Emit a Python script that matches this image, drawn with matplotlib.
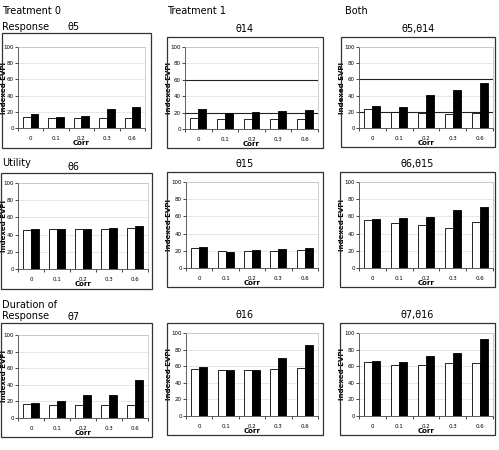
import matplotlib.pyplot as plt
from matplotlib.patches import Rectangle
import numpy as np

W, H = 499, 450

corr = ["0", "0.1", "0.2", "0.3", "0.6"]

# white bars (first series) and black bars (second series), per panel
t0_response_w = [14, 12, 12, 12, 12]
t0_response_b = [17, 14, 15, 24, 26]
t1_response_w = [14, 12, 12, 12, 12]
t1_response_b = [24, 19, 21, 22, 23]
both_response_w = [24, 20, 19, 17, 19]
both_response_b = [27, 26, 41, 47, 55]

t0_utility_w = [45, 47, 47, 47, 48]
t0_utility_b = [46, 46, 47, 48, 50]
t1_utility_w = [23, 20, 20, 20, 21]
t1_utility_b = [24, 19, 21, 22, 23]
both_utility_w = [56, 52, 50, 47, 53]
both_utility_b = [57, 58, 59, 68, 71]

t0_duration_w = [17, 16, 16, 16, 16]
t0_duration_b = [18, 21, 28, 28, 46]
t1_duration_w = [57, 56, 56, 57, 58]
t1_duration_b = [59, 56, 55, 70, 85]
both_duration_w = [65, 62, 62, 64, 64]
both_duration_b = [66, 65, 72, 76, 93]

titles = [["θ5", "θ14", "θ5,θ14"],
          ["θ6", "θ15", "θ6,θ15"],
          ["θ7", "θ16", "θ7,θ16"]]
data = [[(t0_response_w, t0_response_b), (t1_response_w, t1_response_b), (both_response_w, both_response_b)],
        [(t0_utility_w, t0_utility_b), (t1_utility_w, t1_utility_b), (both_utility_w, both_utility_b)],
        [(t0_duration_w, t0_duration_b), (t1_duration_w, t1_duration_b), (both_duration_w, both_duration_b)]]

# pixel boxes (x0, y0, x1, y1), top-left origin
panel_boxes = [[(2, 33, 151, 148), (167, 37, 323, 148), (341, 37, 495, 147)],
               [(1, 173, 152, 289), (167, 172, 323, 287), (340, 172, 495, 287)],
               [(1, 323, 152, 437), (167, 323, 323, 435), (340, 323, 495, 435)]]
axes_boxes = [[(18, 47, 145, 128), (185, 47, 318, 129), (359, 47, 493, 128)],
              [(18, 183, 148, 269), (186, 182, 318, 268), (359, 182, 493, 268)],
              [(18, 335, 148, 418), (186, 333, 318, 416), (359, 333, 493, 416)]]
ylabel_x = [7, 172, 345]
dark_grid = {(0, 1), (0, 2)}


def frac(b):
    x0, y0, x1, y1 = b
    return [x0 / W, 1 - y1 / H, (x1 - x0) / W, (y1 - y0) / H]


fig = plt.figure(figsize=(W / 100, H / 100), dpi=100)
fig.patch.set_facecolor("white")

x = np.arange(len(corr))
bw = 0.3
for r in range(3):
    for c in range(3):
        px0, py0, px1, py1 = panel_boxes[r][c]
        fig.patches.append(Rectangle((px0 / W, 1 - py1 / H), (px1 - px0) / W, (py1 - py0) / H,
                                     transform=fig.transFigure, fill=False,
                                     edgecolor="#333333", linewidth=0.9))
        ax = fig.add_axes(frac(axes_boxes[r][c]))
        w, b = data[r][c]
        ax.set_axisbelow(True)
        for g in range(20, 101, 20):
            if (r, c) in dark_grid and g in (20, 60):
                ax.axhline(g, color="#222222", linewidth=0.8, zorder=0.5)
            else:
                ax.axhline(g, color="#dddddd", linewidth=0.5, zorder=0.5)
        ax.bar(x - bw / 2, w, bw, color="white", edgecolor="black", linewidth=0.6, zorder=2)
        ax.bar(x + bw / 2, b, bw, color="black", edgecolor="black", linewidth=0.6, zorder=2)
        ax.set_xlim(-0.5, len(corr) - 0.5)
        ax.set_ylim(0, 100)
        ax.set_yticks(range(0, 101, 20))
        ax.set_xticks(x)
        ax.set_xticklabels(corr)
        ax.set_xticks(np.arange(-0.5, len(corr), 1), minor=True)
        ax.tick_params(axis="x", which="major", length=0, labelsize=4, pad=6)
        ax.tick_params(axis="x", which="minor", length=2, width=0.5)
        ax.tick_params(axis="y", length=2, width=0.5, labelsize=4, pad=1)
        for s in ["top", "right"]:
            ax.spines[s].set_color("#bbbbbb")
            ax.spines[s].set_linewidth(0.5)
        for s in ["left", "bottom"]:
            ax.spines[s].set_color("#444444")
            ax.spines[s].set_linewidth(0.6)
        ax.set_xlabel("Corr", fontsize=5, fontweight="bold", labelpad=-1)
        ax.set_ylabel("Indexed EVPI", fontsize=5, fontweight="bold")
        ax0, ay0, ax1, ay1 = axes_boxes[r][c]
        ax.yaxis.set_label_coords((ylabel_x[c] - ax0) / (ax1 - ax0), 0.5)

        tx = (px0 + px1) / 2 if c > 0 else 67
        ty = py0 - 8 if c > 0 else py0 - 6
        ha = "center" if c > 0 else "left"
        fig.text(tx / W, 1 - ty / H, titles[r][c], fontsize=7, ha=ha, va="center")

fs = 7
fig.text(2 / W, 1 - 11 / H, "Treatment 0", fontsize=fs, va="center")
fig.text(167 / W, 1 - 11 / H, "Treatment 1", fontsize=fs, va="center")
fig.text(345 / W, 1 - 11 / H, "Both", fontsize=fs, va="center")
fig.text(2 / W, 1 - 27 / H, "Response", fontsize=fs, va="center")
fig.text(2 / W, 1 - 163 / H, "Utility", fontsize=fs, va="center")
fig.text(2 / W, 1 - 305 / H, "Duration of", fontsize=fs, va="center")
fig.text(2 / W, 1 - 316 / H, "Response", fontsize=fs, va="center")

fig.savefig("out.png", dpi=100)
